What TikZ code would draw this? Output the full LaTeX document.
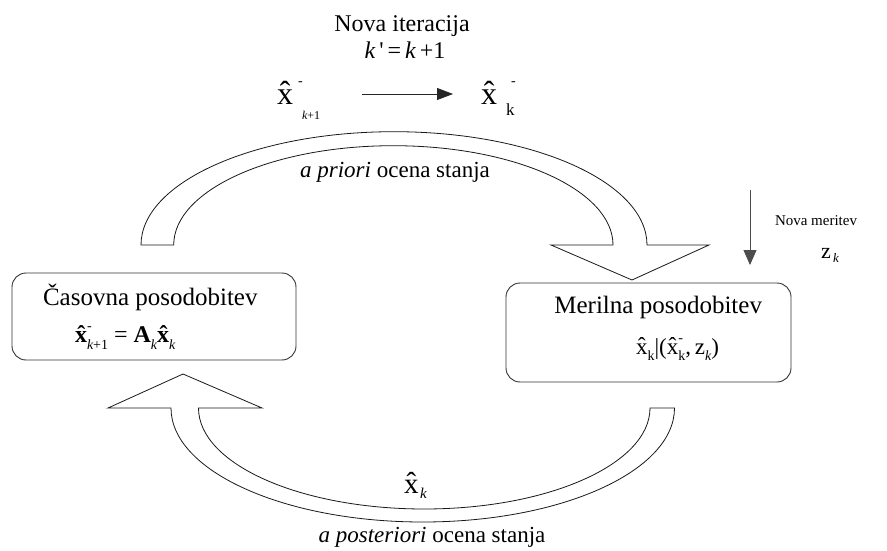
\documentclass[tikz,border=0pt]{standalone}
\usepackage{fontspec}
\setmainfont{Liberation Serif}
\usetikzlibrary{arrows.meta}
\newcommand{\fs}[1]{\fontsize{#1pt}{#1pt}\selectfont}
\tikzset{
  every node/.style={inner sep=0pt, outer sep=0pt},
  box/.style={draw=black!80, line width=0.9pt, rounded corners=14pt, rectangle},
  bigarrow/.style={draw=black!90, line width=0.8pt, fill=white, line join=miter},
  conn/.style={draw=black!85, line width=0.8pt}
}
\begin{document}
\begin{tikzpicture}[x=1pt,y=-1pt]
\fill[white] (0,0) rectangle (887,551);
\useasboundingbox (0,0) rectangle (887,551);

% top labels
\node[anchor=base] (nova) at (402,32) {\fs{24}Nova iteracija};
\node[anchor=base] (kk) at (405,59) {\fs{24}\itshape k\upshape\,\textquotesingle\,=\,\itshape k\upshape\,+1};

\node[anchor=base west] (xa) at (277,104) {\fs{32}\^{x}};
\node[anchor=base west] (xam) at (298,86) {\fs{14}-};
\node[anchor=base west] (xas) at (302,120) {\fs{12}\itshape k\upshape+1};

\node[anchor=base west] (xb) at (481,104) {\fs{32}\^{x}};
\node[anchor=base west] (xbm) at (511,86) {\fs{14}-};
\node[anchor=base west] (xbs) at (506,115) {\fs{17}k};

\coordinate (a1) at (362,94);
\coordinate (a2) at (453,94);
\draw[conn, -{Triangle[length=16pt,width=12pt]}] (a1) -- (a2);

% upper curved arrow (a priori)
\draw[bigarrow] (173.7,245) -- (141,245)
  arc[start angle=180, end angle=360, x radius=253, y radius=113.3]
  -- (709,245) -- (632,280) -- (551,245) -- (613,245)
  arc[start angle=0, end angle=-180, x radius=219.65, y radius=99.3]
  -- cycle;
\node[anchor=base] (apriori) at (395,177) {\fs{23}\itshape a priori\upshape{} ocena stanja};

% new measurement
\node[anchor=base west] (nm) at (775,225) {\fs{15}Nova meritev};
\node[anchor=base west] (zk) at (821,258) {\fs{22}z};
\node[anchor=base west] (zks) at (833,262) {\fs{13}\itshape k};
\coordinate (m1) at (750,190);
\coordinate (m2) at (750,265);
\draw[draw=black!70, line width=0.8pt, -{Triangle[length=15pt,width=13pt]}] (m1) -- (m2);

% boxes
\node[box, minimum width=284pt, minimum height=87pt] (cas) at (154,316.5) {};
\node[anchor=base west] (castxt) at (43,305) {\fs{25}Časovna posodobitev};
\node[anchor=base west] (casf) at (75,342) {\fs{24}{\bfseries\^{x}}\rlap{\raisebox{0.5em}{\fs{14}-}}\raisebox{-0.3em}{\fs{14}\itshape k\upshape+1}\ =\ {\bfseries A}\raisebox{-0.3em}{\fs{14}\itshape k}{\bfseries\^{x}}\raisebox{-0.3em}{\fs{14}\itshape k}};

\node[box, minimum width=285pt, minimum height=99pt] (mer) at (648.5,332.5) {};
\node[anchor=base east] (mertxt) at (762,313) {\fs{25}Merilna posodobitev};
\node[anchor=base west] (merf) at (636,354) {\fs{23}\^{x}\raisebox{-0.3em}{\fs{14}k}|(\^{x}\rlap{\raisebox{0.5em}{\fs{14}-}}\raisebox{-0.3em}{\fs{14}k},\,z\raisebox{-0.3em}{\fs{14}\itshape k})};

% lower curved arrow (a posteriori)
\draw[bigarrow] (198.5,408)
  arc[start angle=180, end angle=0, x radius=225.75, y radius=101]
  -- (674.5,408)
  arc[start angle=0, end angle=180, x radius=251.75, y radius=114]
  -- (108,408) -- (183,374) -- (262,408) -- cycle;
\node[anchor=base west] (xc) at (404,493) {\fs{29}\^{x}};
\node[anchor=base west] (xcs) at (420,498) {\fs{15}\itshape k};
\node[anchor=base] (apost) at (432,542) {\fs{23}\itshape a posteriori\upshape{} ocena stanja};
\end{tikzpicture}
\end{document}
